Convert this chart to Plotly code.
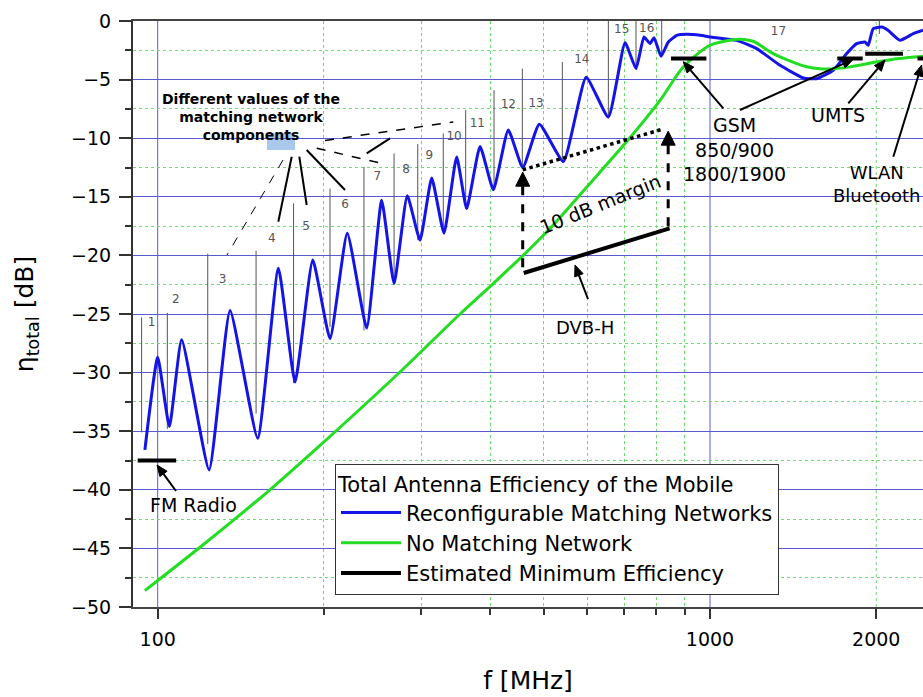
import numpy as np
import plotly.graph_objects as go

# ---------------- data ----------------
blue_f = [94.8, 100, 105, 110.5, 123.9, 135.2, 151.7, 165.4, 177.3, 190.9, 205.1, 220.4,
          239, 254.4, 267.9, 283.1, 298.5, 313.4, 329.9, 347.8, 362.6, 383.4, 405.3,
          431.3, 458.1, 490.9, 542.6, 596.6, 654.6, 701.8, 734.5, 759.4, 778.8, 791.9,
          815.3, 840.6, 870.6, 907.6, 960, 1000, 1117, 1215, 1339, 1476, 1560, 1672,
          1768, 1843, 1908, 1934, 1975, 2046, 2100, 2208, 2334, 2431]
blue_db = [-36.6, -28.7, -34.6, -27.2, -38.3, -24.7, -35.6, -21.1, -30.8, -20.4, -27.1, -18.1,
           -26.2, -15.3, -22.4, -14.9, -18.7, -13.4, -18.1, -11.6, -16.0, -10.7, -14.4,
           -9.3, -12.5, -8.8, -12.0, -4.8, -8.2, -1.85, -4.06, -1.36, -1.93, -1.42,
           -3.0, -1.79, -1.22, -1.13, -1.22, -1.36, -1.65, -2.36, -3.78, -4.86, -4.92, -4.2,
           -2.78, -1.93, -1.79, -2.07, -0.65, -0.51, -0.79, -1.65, -1.08, -0.79]

green_f = [94.8, 119.3, 159.7, 192.7, 274.6, 352.7, 405, 459, 509.6, 600, 701.6, 812,
           894.5, 1000, 1102, 1133, 1200, 1302, 1496, 1650, 1800, 2000, 2200, 2431]
green_db = [-48.6, -44.9, -40.0, -36.6, -29.95, -25.0, -22.4, -20.0, -17.86, -14.1, -10.46, -6.77,
            -3.92, -2.07, -1.59, -1.55, -1.75, -2.78, -3.9, -4.1, -3.9, -3.5, -3.2, -3.0]

# estimated minimum efficiency: FM, DVB-H, GSM850/900, GSM1800/1900, UMTS, WLAN
est_f = [92, 108, None, 460, 845, None, 850, 985, None, 1700, 1890, None, 1910, 2235, None, 2375, 2500]
est_db = [-37.5, -37.5, None, -21.5, -17.7, None, -3.2, -3.2, None, -3.2, -3.2, None,
          -2.8, -2.8, None, -3.2, -3.2]

# switching points between matching-network states (vertical marker lines)
switch_f = [93.5, 104.1, 123.2, 150.7, 176.2, 205.1, 236.3, 267.9, 295.7, 328.9, 361.1,
            406.4, 457.3, 540.3, 654.6, 734.5, 817.6, 2026]
switch_top = [-25.3, -24.9, -19.85, -19.6, -15.55, -14.3, -12.45, -11.3, -10.5, -9.6, -7.6,
              -5.9, -4.06, -3.5, 0, 0, 0, 0]
switch_bot = [-35.1, -34.8, -36.1, -33.5, -30.9, -26.1, -26.4, -22.4, -18.7, -17.6, -16.0,
              -14.4, -12.45, -12.0, -8.3, -4.06, -2.9, -1.1]

# state numbers
state_f = [97.5, 107.9, 131.1, 160.9, 185.6, 218.3, 249.8, 281.6, 310.3, 344, 379,
           431.3, 484.2, 585.9, 692, 768, 1330]
state_db = [-25.8, -23.8, -22.1, -18.6, -17.6, -15.7, -13.3, -12.7, -11.5, -9.9, -8.75,
            -7.2, -7.05, -3.35, -0.8, -0.65, -0.94]
state_txt = [str(i) for i in range(1, 18)]

# 10 dB margin construction (DVB-H)
margin_f = [458, 818]
margin_db = [-12.7, -9.25]
arrow_left_f, arrow_left_db = 458, [-21.6, -12.9]
arrow_right_f, arrow_right_db = 840, [-17.6, -9.4]

x_tickvals = [100, 1000, 2000]
x_minorvals = [200, 300, 400, 500, 600, 700, 800, 900]
x_major_grid = [100, 1000]
x_minor_grid_extra = [2000]
y_tickvals = [0, -5, -10, -15, -20, -25, -30, -35, -40, -45, -50]
y_minorvals = [-2.5, -7.5, -12.5, -17.5, -22.5, -27.5, -32.5, -37.5, -42.5, -47.5]

# ---------------- layout geometry ----------------
W, H = 923, 697
ML, MR, MT, MB = 133, 0, 21, 90
PL, PR, PT, PB = ML, W - MR, MT, H - MB
X_RANGE = [1.95528, 3.38566]
Y_RANGE = [-50, 0]
FONT = "DejaVu Sans, Liberation Sans, Arial, sans-serif"
BLUE_GRID = "#5a5ad2"
GREEN_GRID = "#6fdc6f"


def P(xp, yp):
    """reference pixel -> paper coords"""
    return (xp - PL) / (PR - PL), 1 - (yp - PT) / (PB - PT)


def data_px(f, db):
    """data value -> pixel (same mapping as the axes)"""
    xp = PL + (np.log10(f) - X_RANGE[0]) / (X_RANGE[1] - X_RANGE[0]) * (PR - PL)
    yp = PT + (Y_RANGE[1] - db) / (Y_RANGE[1] - Y_RANGE[0]) * (PB - PT)
    return xp, yp


def vlines(xs, tops, bots):
    X, Y = [], []
    for x, t, b in zip(xs, tops, bots):
        X += [x, x, None]
        Y += [t, b, None]
    return X, Y


fig = go.Figure()

sx, sy = vlines(switch_f, switch_top, switch_bot)
fig.add_trace(go.Scatter(x=sx, y=sy, mode="lines", line=dict(color="#555555", width=1),
                         showlegend=False, hoverinfo="skip"))
fig.add_trace(go.Scatter(x=state_f, y=state_db, mode="text", text=state_txt,
                         textfont=dict(size=12, color="#555555", family=FONT),
                         showlegend=False, hoverinfo="skip"))

fig.add_trace(go.Scatter(x=blue_f, y=blue_db, mode="lines", name="Reconfigurable Matching Networks",
                         line=dict(color="#1414e6", width=3, shape="spline", smoothing=0.45)))
fig.add_trace(go.Scatter(x=green_f, y=green_db, mode="lines", name="No Matching Network",
                         line=dict(color="#22dd22", width=3, shape="spline", smoothing=0.8)))
fig.add_trace(go.Scatter(x=est_f, y=est_db, mode="lines", name="Estimated Minimum Efficiency",
                         line=dict(color="black", width=4), connectgaps=False))

shapes = []
# vertical grid lines at decades (blue, solid) and at 2000 (green, dotted)
for xv in x_major_grid:
    shapes.append(dict(type="line", xref="x", yref="paper", x0=xv, x1=xv, y0=0, y1=1,
                       line=dict(color=BLUE_GRID, width=1), layer="below"))
for xv in x_minor_grid_extra:
    shapes.append(dict(type="line", xref="x", yref="paper", x0=xv, x1=xv, y0=0, y1=1,
                       line=dict(color=GREEN_GRID, width=1, dash="dot"), layer="below"))


def seg(p0, p1, width, dash="solid", color="black"):
    x0, y0 = P(*p0)
    x1, y1 = P(*p1)
    return dict(type="line", xref="paper", yref="paper", x0=x0, y0=y0, x1=x1, y1=y1,
                line=dict(color=color, width=width, dash=dash))


def arrow(tip, tail, width=2, head=11, half=4.5, dash="solid"):
    """line + filled triangular head, given in reference pixels"""
    tx, ty = tip
    dx, dy = tail[0] - tx, tail[1] - ty
    L = np.hypot(dx, dy)
    ux, uy = dx / L, dy / L
    bx, by = tx + ux * head, ty + uy * head
    nx, ny = -uy, ux
    out = [seg((bx, by), tail, width, dash)]
    pts = [(tx, ty), (bx + nx * half, by + ny * half), (bx - nx * half, by - ny * half)]
    pp = [P(*p) for p in pts]
    path = "M {:.5f},{:.5f} L {:.5f},{:.5f} L {:.5f},{:.5f} Z".format(*pp[0], *pp[1], *pp[2])
    out.append(dict(type="path", xref="paper", yref="paper", path=path,
                    fillcolor="black", line=dict(color="black", width=1)))
    return out


# 10 dB margin dotted line (data coordinates)
shapes.append(dict(type="line", xref="x", yref="y", x0=margin_f[0], y0=margin_db[0],
                   x1=margin_f[1], y1=margin_db[1], line=dict(color="black", width=3.5, dash="dot")))
# dashed arrows (positions derived from data)
for f, dbs in ((arrow_left_f, arrow_left_db), (arrow_right_f, arrow_right_db)):
    shapes += arrow(data_px(f, dbs[1]), data_px(f, dbs[0]), width=3, head=14, half=7, dash="dash")

# leader lines from the "Different values ..." note
shapes += [
    seg((283, 160), (227, 255), 1, "dash"),
    seg((291.7, 156.7), (278.3, 221.7), 2),
    seg((299.3, 156.7), (306.7, 205), 2),
    seg((306.7, 150), (345, 190), 2),
    seg((316.7, 148.3), (381.7, 163.3), 1.5, "dash"),
    seg((366.7, 153.3), (390, 138.3), 2),
    seg((325, 140.5), (453.3, 122), 1.5, "dash"),
]
rx0, ry0 = P(267, 150)
rx1, ry1 = P(295, 133)
shapes.append(dict(type="rect", xref="paper", yref="paper", x0=rx0, y0=ry0, x1=rx1, y1=ry1,
                   fillcolor="#a9c9ec", line=dict(width=0), layer="below"))

# label arrows
shapes += arrow((157, 465), (176, 491))
shapes += arrow((575, 265), (588, 299))
shapes += arrow((683.3, 61.7), (723.3, 108.3))
shapes += arrow((853.3, 59.3), (740, 110))
shapes += arrow((885, 60), (848.3, 103.3))
shapes += arrow((921.7, 65), (893.3, 156.7))


def label(text, pos, size=19, angle=0):
    x, y = P(*pos)
    return dict(x=x, y=y, xref="paper", yref="paper", text=text, showarrow=False,
                textangle=angle, xanchor="center", yanchor="middle",
                font=dict(size=size, color="black", family=FONT))


annotations = [
    label("FM Radio", (193, 505), 19),
    label("DVB-H", (585, 327), 18),
    label("GSM<br>850/900<br>1800/1900", (734, 149), 19),
    label("UMTS", (838, 115), 19),
    label("WLAN<br>Bluetooth", (876, 184), 18),
    label("10 dB margin", (600, 204), 19, angle=-22),
    label("<b>Different values of the<br>matching network<br>components</b>", (251, 116.5), 14),
]

lx, ly = P(335, 464)

fig.update_layout(
    width=W, height=H,
    margin=dict(l=ML, r=MR, t=MT, b=MB, pad=0),
    paper_bgcolor="white", plot_bgcolor="white",
    font=dict(family=FONT, size=20, color="black"),
    shapes=shapes, annotations=annotations,
    showlegend=True,
    legend=dict(x=lx, y=ly, xanchor="left", yanchor="top", bgcolor="white",
                bordercolor="#333333", borderwidth=1, font=dict(size=21, family=FONT),
                title=dict(text="Total Antenna Efficiency of the Mobile", font=dict(size=21)),
                itemwidth=60, tracegroupgap=0),
    xaxis=dict(type="log", range=X_RANGE, tickmode="array", tickvals=x_tickvals,
               ticktext=[str(v) for v in x_tickvals], showgrid=False, zeroline=False,
               ticks="outside", ticklen=10, tickwidth=2, tickcolor="#333333",
               showline=True, linecolor="#444444", linewidth=2, mirror=True,
               tickfont=dict(size=19), ticklabelstandoff=4,
               minor=dict(tickmode="array", tickvals=x_minorvals, ticks="outside", ticklen=6,
                          tickwidth=2, tickcolor="#333333", showgrid=True,
                          gridcolor=GREEN_GRID, griddash="dot", gridwidth=1),
               title=dict(text="f [MHz]", font=dict(size=25), standoff=23),
               automargin=False),
    yaxis=dict(range=Y_RANGE, tickmode="array", tickvals=y_tickvals, zeroline=False,
               showgrid=True, gridcolor=BLUE_GRID, gridwidth=1,
               ticks="outside", ticklen=12, tickwidth=2, tickcolor="#333333",
               showline=True, linecolor="#333333", linewidth=2,
               tickfont=dict(size=19), ticklabelstandoff=4,
               minor=dict(tickmode="array", tickvals=y_minorvals, ticks="outside", ticklen=6,
                          tickwidth=2, tickcolor="#333333", showgrid=True,
                          gridcolor=GREEN_GRID, griddash="dot", gridwidth=1),
               title=dict(text="η<sub>total</sub> [dB]", font=dict(size=25), standoff=30),
               automargin=False),
)

fig.write_html("out.html")
